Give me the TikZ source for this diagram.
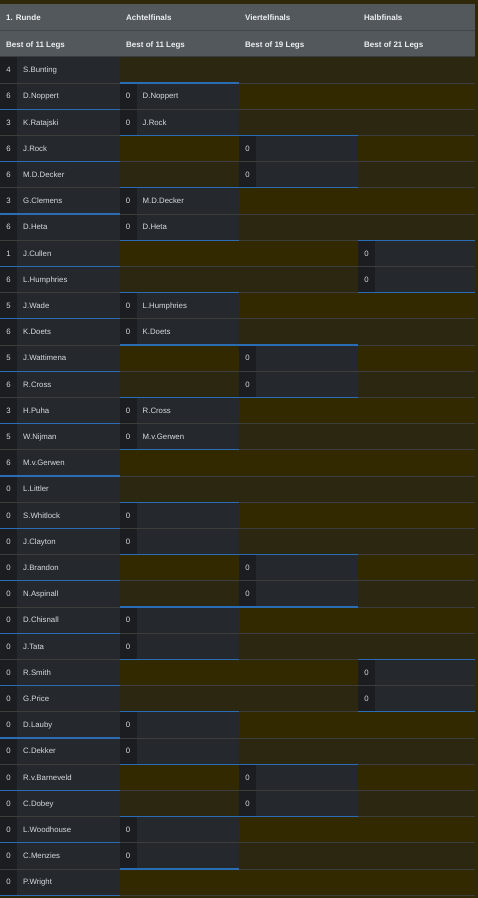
\documentclass[tikz,border=0pt]{standalone}
\usepackage{fontspec}
\setmainfont{Liberation Sans}
\definecolor{bgolive}{HTML}{2F2809}
\definecolor{olivea}{HTML}{322900}
\definecolor{oliveb}{HTML}{2C2711}
\definecolor{hdr}{HTML}{52585C}
\definecolor{hdrline}{HTML}{43474A}
\definecolor{hdrbot}{HTML}{3A3D40}
\definecolor{scorebg}{HTML}{1B1D20}
\definecolor{namebg}{HTML}{25282C}
\definecolor{gridc}{HTML}{3D3D3B}
\definecolor{blueln}{HTML}{2A6DB5}
\definecolor{txt}{HTML}{D8DCDF}
\definecolor{hdrtxt}{HTML}{EEF0F2}
\tikzset{
  nametxt/.style={anchor=base west,inner sep=0pt,text=txt,font=\fontsize{7.8}{9}\selectfont},
  scoretxt/.style={anchor=base,inner sep=0pt,text=txt,font=\fontsize{7.8}{9}\selectfont},
  hdrtxtstyle/.style={anchor=base west,inner sep=0pt,text=hdrtxt,font=\bfseries\fontsize{8}{9}\selectfont},
  gridline/.style={draw=gridc,line width=0.8pt},
  blueline/.style={draw=blueln,line width=1.2pt},
}
\newcommand\rowtop[1]{\pgfmathsetmacro\yt{56.7+(#1-1)*26.2}\pgfmathsetmacro\yb{\yt+26.2}}
% filled cell with name: start, end, row, score, name, id
\newcommand\bcell[6]{%
  \rowtop{#3}%
  \fill[scorebg] (#1,\yt) rectangle ({#1+17},\yb);
  \fill[namebg] ({#1+17},\yt) rectangle (#2,\yb);
  \node[scoretxt] (s#6) at ({#1+8.5},{\yt+16}) {#4};
  \node[nametxt] (n#6) at ({#1+23},{\yt+16}) {#5};
}
% filled cell without name
\newcommand\ecell[5]{%
  \rowtop{#3}%
  \fill[scorebg] (#1,\yt) rectangle ({#1+17},\yb);
  \fill[namebg] ({#1+17},\yt) rectangle (#2,\yb);
  \node[scoretxt] (s#5) at ({#1+8.5},{\yt+16}) {#4};
}
% blue line at top / bottom of a row, across a column
\newcommand\bltop[3]{\rowtop{#3}\draw[blueline] (#1,\yt) -- (#2,\yt);}
\newcommand\blbot[3]{\rowtop{#3}\draw[blueline] (#1,\yb) -- (#2,\yb);}
\begin{document}
\begin{tikzpicture}[x=1pt,y=-1pt]
\fill[bgolive] (0,0) rectangle (478,898);
\useasboundingbox (0,0) rectangle (478,898);
% header
\fill[hdr] (0,4) rectangle (475,56.7);
\draw[hdrline,line width=0.9pt] (0,30.5) -- (475,30.5);
\draw[hdrbot,line width=0.9pt] (0,56.5) -- (475,56.5);
\node[hdrtxtstyle] (h1) at (6,20) {1. Runde};
\node[hdrtxtstyle] (h2) at (126,20) {Achtelfinals};
\node[hdrtxtstyle] (h3) at (245,20) {Viertelfinals};
\node[hdrtxtstyle] (h4) at (364,20) {Halbfinals};
\node[hdrtxtstyle] (b1) at (6,47) {Best of 11 Legs};
\node[hdrtxtstyle] (b2) at (126,47) {Best of 11 Legs};
\node[hdrtxtstyle] (b3) at (245,47) {Best of 19 Legs};
\node[hdrtxtstyle] (b4) at (364,47) {Best of 21 Legs};
% olive row backgrounds
\foreach \i in {1,...,32}{
  \rowtop{\i}
  \pgfmathparse{int(mod(\i,2))}
  \ifnum\pgfmathresult=0 \fill[olivea] (0,\yt) rectangle (475,\yb);
  \else \fill[oliveb] (0,\yt) rectangle (475,\yb); \fi
}
% column 1
\foreach \i/\s/\n in {1/4/S.Bunting,2/6/D.Noppert,3/3/K.Ratajski,4/6/J.Rock,5/6/M.D.Decker,6/3/G.Clemens,7/6/D.Heta,8/1/J.Cullen,9/6/L.Humphries,10/5/J.Wade,11/6/K.Doets,12/5/J.Wattimena,13/6/R.Cross,14/3/H.Puha,15/5/W.Nijman,16/6/M.v.Gerwen,17/0/L.Littler,18/0/S.Whitlock,19/0/J.Clayton,20/0/J.Brandon,21/0/N.Aspinall,22/0/D.Chisnall,23/0/J.Tata,24/0/R.Smith,25/0/G.Price,26/0/D.Lauby,27/0/C.Dekker,28/0/R.v.Barneveld,29/0/C.Dobey,30/0/L.Woodhouse,31/0/C.Menzies,32/0/P.Wright}{
  \bcell{0}{119.5}{\i}{\s}{\n}{a\i}
}
% column 2
\foreach \i/\n in {2/D.Noppert,3/J.Rock,6/M.D.Decker,7/D.Heta,10/L.Humphries,11/K.Doets,14/R.Cross,15/M.v.Gerwen}{
  \bcell{119.5}{239}{\i}{0}{\n}{b\i}
}
\foreach \i in {18,19,22,23,26,27,30,31}{
  \ecell{119.5}{239}{\i}{0}{b\i}
}
% column 3
\foreach \i in {4,5,12,13,20,21,28,29}{
  \ecell{239}{358}{\i}{0}{c\i}
}
% column 4
\foreach \i in {8,9,24,25}{
  \ecell{358}{475}{\i}{0}{d\i}
}
% grid lines
\foreach \i in {1,...,32}{
  \rowtop{\i}
  \draw[gridline] (0,\yb) -- (475,\yb);
}
% blue lines column 1
\foreach \i in {2,4,...,32}{ \blbot{0}{119.5}{\i} }
% column 2 blocks
\foreach \i in {2,6,10,14,18,22,26,30}{
  \bltop{119.5}{239}{\i}
  \pgfmathtruncatemacro\j{\i+1}
  \blbot{119.5}{239}{\j}
}
% column 3 blocks
\foreach \i in {4,12,20,28}{
  \bltop{239}{358}{\i}
  \pgfmathtruncatemacro\j{\i+1}
  \blbot{239}{358}{\j}
}
% column 4 blocks
\foreach \i in {8,24}{
  \bltop{358}{475}{\i}
  \pgfmathtruncatemacro\j{\i+1}
  \blbot{358}{475}{\j}
}
\end{tikzpicture}
\end{document}
